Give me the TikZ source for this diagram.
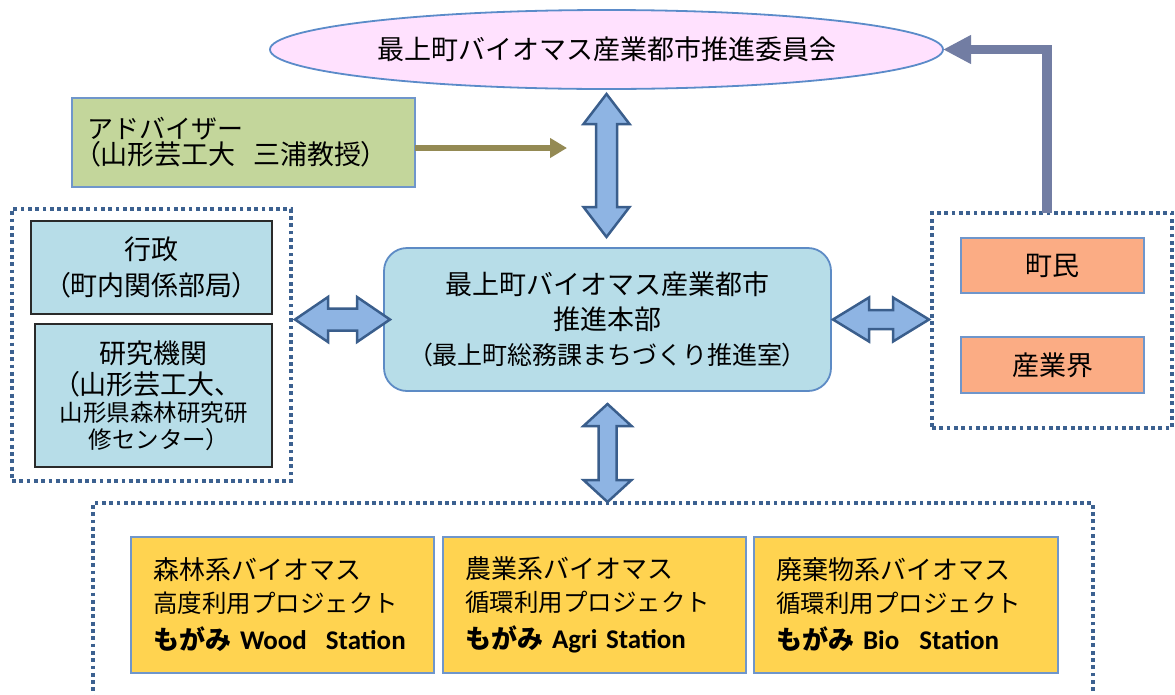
\documentclass[tikz,border=0pt]{standalone}
\usepackage{fontspec}
\setmainfont{Noto Sans CJK JP}
\newfontfamily\paltf[RawFeature=+palt]{Noto Sans CJK JP}
\newfontfamily\latf{Carlito}
\newcommand\LP{{\paltf （}}
\newcommand\RP{{\paltf ）}}
\usetikzlibrary{shapes.geometric,arrows.meta,calc}
\definecolor{pinkfill}{HTML}{FFE1FE}
\definecolor{ellborder}{HTML}{5B8BC9}
\definecolor{advgreen}{HTML}{C3D69B}
\definecolor{softblue}{HTML}{6F96CB}
\definecolor{hqfill}{HTML}{B7DDE8}
\definecolor{hqborder}{HTML}{5D8BC5}
\definecolor{boxblack}{HTML}{2A2A2A}
\definecolor{salmon}{HTML}{FBAC84}
\definecolor{yellowfill}{HTML}{FFD350}
\definecolor{dotcol}{HTML}{3C6190}
\definecolor{arrowfill}{HTML}{8EB4E3}
\definecolor{arrowdraw}{HTML}{3A5E8C}
\definecolor{olivecol}{HTML}{948A54}
\definecolor{slatecol}{HTML}{727DA3}
\newcommand\vdbl[5]{% top tip, bottom tip, head half, shaft half, head length
  \path[blockarrow] let \p1=(#1), \p2=(#2) in
    (\x1,\y1) -- (\x1+#3pt,\y1-#5pt) -- (\x1+#4pt,\y1-#5pt) -- (\x1+#4pt,\y2+#5pt)
    -- (\x1+#3pt,\y2+#5pt) -- (\x1,\y2) -- (\x1-#3pt,\y2+#5pt) -- (\x1-#4pt,\y2+#5pt)
    -- (\x1-#4pt,\y1-#5pt) -- (\x1-#3pt,\y1-#5pt) -- cycle;}
\newcommand\hdbl[5]{% left tip, right tip, head half, shaft half, head length
  \path[blockarrow] let \p1=(#1), \p2=(#2) in
    (\x1,\y1) -- (\x1+#5pt,\y1+#3pt) -- (\x1+#5pt,\y1+#4pt) -- (\x2-#5pt,\y1+#4pt)
    -- (\x2-#5pt,\y1+#3pt) -- (\x2,\y1) -- (\x2-#5pt,\y1-#3pt) -- (\x2-#5pt,\y1-#4pt)
    -- (\x1+#5pt,\y1-#4pt) -- (\x1+#5pt,\y1-#3pt) -- cycle;}
\begin{document}
\begin{tikzpicture}[x=1pt,y=-1pt,
  every node/.style={inner sep=0pt,outer sep=0pt},
  dotbox/.style={draw=dotcol,line width=3.8pt,dash pattern=on 3.8pt off 3.5pt},
  blockarrow/.style={draw=arrowdraw,fill=arrowfill,line width=2.5pt,line join=miter},
  bluebox/.style={draw=boxblack,fill=hqfill,line width=1.5pt,align=center},
  salbox/.style={draw=softblue,fill=salmon,line width=1.6pt,minimum width=183pt,
    font=\fontsize{27}{27}\selectfont},
  projbox/.style={draw=softblue,fill=yellowfill,line width=1.8pt,minimum height=136pt,
    text width=259pt,inner xsep=22pt,align=left,font=\fontsize{26}{33}\selectfont},
  olivearrow/.style={draw=olivecol,line width=6pt,-{Triangle[length=17pt,width=19pt]}},
  slatearrow/.style={draw=slatecol,line width=9.3pt,-{Triangle[length=28pt,width=27pt]}}
]
\useasboundingbox (0,0) rectangle (1175,694);
\clip (0,0) rectangle (1175,694);

% containers
\node[dotbox,minimum width=279pt,minimum height=272pt] (lbox) at (151.5,345) {};
\node[dotbox,minimum width=240pt,minimum height=215pt] (rbox) at (1052,320.5) {};
\node[dotbox,minimum width=1000pt,minimum height=210pt] (bbox) at (593,608) {};

% top committee
\node[ellipse,draw=ellborder,fill=pinkfill,line width=1.8pt,minimum width=673pt,
  minimum height=79pt,font=\fontsize{27}{27}\selectfont] (comm) at (606.5,49.5)
  {最上町バイオマス産業都市推進委員会};

% advisor
\node[draw=softblue,fill=advgreen,line width=1.6pt,minimum width=343pt,minimum height=89pt,
  text width=313pt,inner xsep=15pt,align=left,font=\fontsize{26}{26}\selectfont]
  (adv) at (243.5,142.5)
  {アドバイザー\\\mbox{\fontsize{27}{26}\selectfont\LP 山形芸工大\hspace{18pt}三浦教授\RP}};

% headquarters
\node[draw=hqborder,fill=hqfill,line width=1.8pt,rounded corners=23pt,minimum width=447pt,
  minimum height=143pt,align=center,font=\fontsize{27}{35}\selectfont] (hq) at (607.5,319.5)
  {最上町バイオマス産業都市\\推進本部\\{\fontsize{25}{35}\selectfont\LP 最上町総務課まちづくり推進室\RP}};

% left boxes
\node[bluebox,minimum width=241pt,minimum height=93pt,font=\fontsize{27}{36}\selectfont]
  (gyousei) at (151.5,267.5) {行政\\\LP 町内関係部局\RP};
\node[bluebox,line width=2pt,minimum width=237pt,minimum height=143pt,font=\fontsize{27}{31}\selectfont]
  (kenkyu) at (153.5,395.5)
  {研究機関\\\LP 山形芸工大、\\[-4pt]{\fontsize{23.5}{31}\selectfont 山形県森林研究研}\\[-4pt]{\fontsize{23.5}{31}\selectfont 修センター\RP}};

% right boxes
\node[salbox,minimum height=55pt] (choumin) at (1052.5,265.5) {町民};
\node[salbox,minimum height=56pt] (sangyo) at (1052.5,365) {産業界};

% project boxes
\node[projbox] (p1) at (282.5,605)
  {森林系バイオマス\\{\fontsize{24.5}{33}\selectfont 高度利用プロジェクト}\\[4pt]\mbox{{\bfseries もがみ}\hspace{9pt}{\latf\bfseries\fontsize{27}{33}\selectfont Wood\hspace{19pt}Station}}};
\node[projbox] (p2) at (594.5,605)
  {農業系バイオマス\\{\fontsize{24.5}{33}\selectfont 循環利用プロジェクト}\\[4pt]\mbox{{\bfseries もがみ}\hspace{9pt}{\latf\bfseries\fontsize{27}{33}\selectfont Agri Station}}};
\node[projbox,text width=260pt] (p3) at (906,605)
  {廃棄物系バイオマス\\{\fontsize{24.5}{33}\selectfont 循環利用プロジェクト}\\[4pt]\mbox{{\bfseries もがみ}\hspace{9pt}{\latf\bfseries\fontsize{27}{33}\selectfont Bio\hspace{20pt}Station}}};

% block arrows
\vdbl{$(comm.south)+(0,5)$}{$(hq.north)+(0,-11)$}{23}{10.5}{30}
\vdbl{$(hq.south)+(0,13)$}{$(hq.south|-bbox.north)+(0,-1)$}{24}{9}{22}
\hdbl{$(lbox.east|-hq.west)+(4,0)$}{$(hq.west)+(6,0)$}{22.5}{11}{33}
\hdbl{$(hq.east)+(2,0)$}{$(rbox.west|-hq.east)+(-3,0)$}{22}{9.5}{36}

% advisor arrow
\coordinate (advtip) at (567,148);
\draw[olivearrow] (adv.east|-advtip) -- (advtip);

% citizens to committee
\draw[slatearrow] ([xshift=-5pt]rbox.north) |- (comm.east);
\end{tikzpicture}
\end{document}
